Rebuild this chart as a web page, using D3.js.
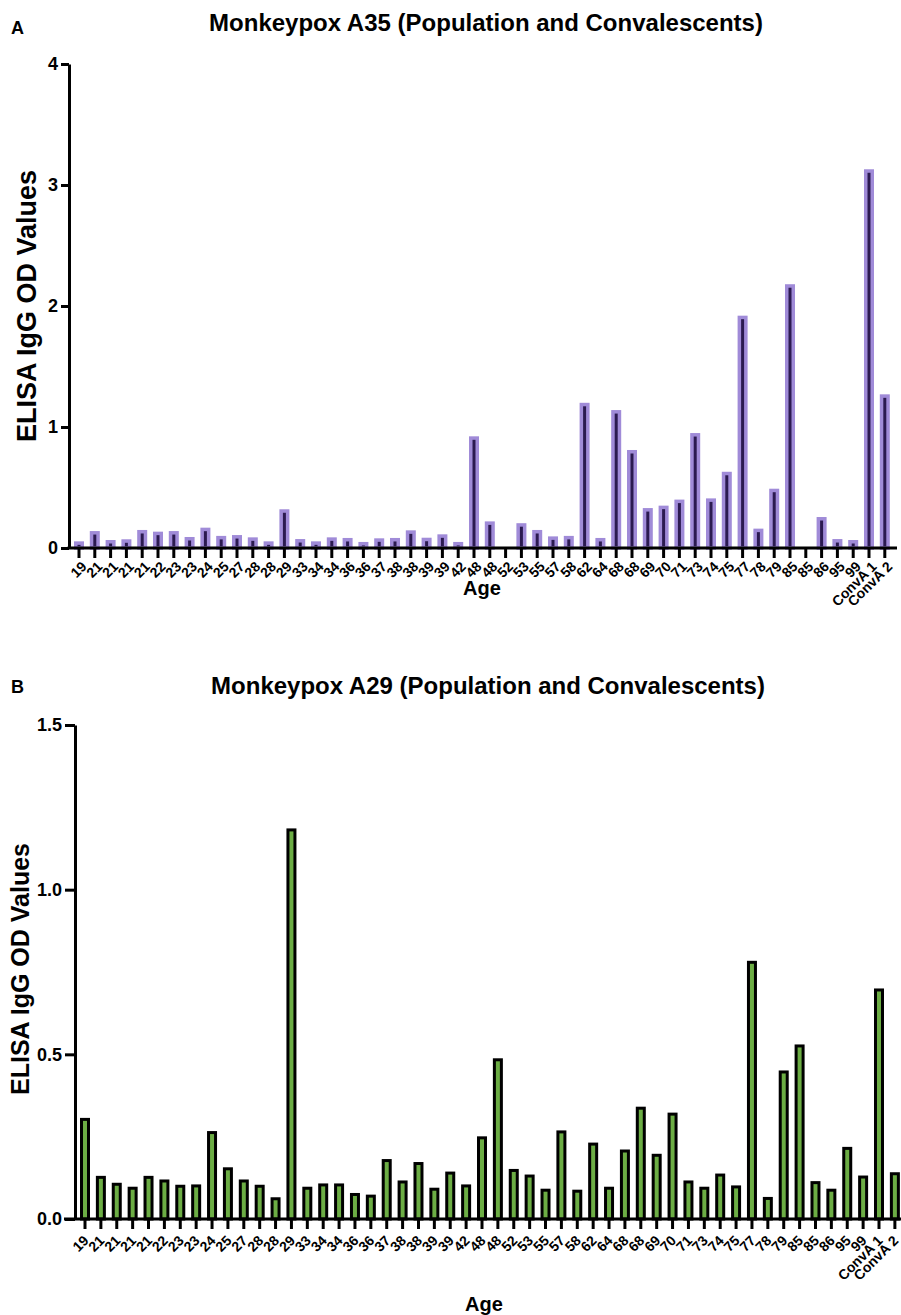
<!DOCTYPE html>
<html>
<head>
<meta charset="utf-8">
<script src="https://cdn.jsdelivr.net/npm/d3@7"></script>
<style>
    body { margin: 0; background: #fff; }
    svg { display: block; font-family: "Liberation Sans", Arial, sans-serif; }
    .axis path, .axis line { stroke: #000; stroke-width: 3; }
    .axis text { font-weight: bold; fill: #000; }
</style>
</head>
<body>
<svg id="chart" width="901" height="1315"></svg>
<script>
    const ages = ["19","21","21","21","21","22","23","23","24","25","27","28","28","29","33","34","34","36","36","37",
        "38","38","39","39","42","48","48","52","53","55","57","58","62","64","68","68","69","70","71","73",
        "74","75","77","78","79","85","85","86","95","99","ConvA 1","ConvA 2"];

    const a35Values = [0.055,0.14,0.066,0.072,0.149,0.135,0.14,0.091,0.168,0.10,0.107,0.088,0.055,0.32,0.074,0.055,0.088,0.083,0.05,0.08,
        0.083,0.146,0.085,0.113,0.05,0.923,0.22,0,0.205,0.149,0.096,0.10,1.20,0.083,1.14,0.81,0.33,0.35,0.40,0.95,
        0.41,0.63,1.92,0.16,0.49,2.18,0,0.256,0.074,0.066,3.13,1.27];

    const a29Values = [0.307,0.131,0.110,0.098,0.131,0.12,0.104,0.105,0.267,0.157,0.12,0.104,0.066,1.186,0.098,0.108,0.108,0.079,0.074,0.182,
        0.117,0.173,0.095,0.144,0.105,0.251,0.488,0.152,0.135,0.092,0.269,0.089,0.232,0.098,0.211,0.341,0.198,0.323,0.117,0.098,
        0.138,0.102,0.784,0.067,0.451,0.530,0.115,0.092,0.219,0.132,0.70,0.142];

    const a35Ticks = [0, 1, 2, 3, 4];
    const a29Ticks = [0, 0.5, 1.0, 1.5];

    const svg = d3.select("#chart");

    function drawPanel(cfg) {
        const g = svg.append("g");
        const idx = d3.range(ages.length);

        const x = d3.scaleBand().domain(idx).range(cfg.xRange).padding(0);
        const y = d3.scaleLinear().domain(cfg.yDomain).range(cfg.yRange);

        // bars (stroke drawn inside so the outer edge sits on the value)
        const sw = cfg.barStroke;
        g.append("g").selectAll("rect")
            .data(cfg.values)
            .join("rect")
            .attr("x", (d, i) => x(i) + x.bandwidth() / 2 - cfg.barWidth / 2 + sw / 2)
            .attr("width", cfg.barWidth - sw)
            .attr("y", d => y(d) + sw / 2)
            .attr("height", d => Math.max(0, y(0) - y(d) - sw / 2))
            .attr("fill", cfg.fill)
            .attr("stroke", cfg.stroke)
            .attr("stroke-width", sw)
            .attr("display", d => d > 0 ? null : "none");

        // y axis
        const yAxis = g.append("g")
            .attr("class", "axis")
            .attr("transform", `translate(${cfg.yAxisX},0)`)
            .call(d3.axisLeft(y).tickValues(cfg.ticks).tickFormat(cfg.tickFormat)
                .tickSize(cfg.yTickSize).tickSizeOuter(0).tickPadding(3));
        yAxis.selectAll("text").style("font-size", "18px");

        // x axis
        const xAxis = g.append("g")
            .attr("class", "axis")
            .attr("transform", `translate(0,${y(0)})`)
            .call(d3.axisBottom(x).tickFormat(i => ages[i]).tickSize(10).tickSizeOuter(0));
        xAxis.select(".domain").attr("d", `M${cfg.xLineStart},0H${cfg.xLineEnd}`);
        xAxis.selectAll(".tick text")
            .style("font-size", "14px")
            .attr("text-anchor", "end")
            .attr("x", 0)
            .attr("y", 0)
            .attr("dy", "0.35em")
            .attr("transform", `translate(${cfg.labelShift},${cfg.labelDrop}) rotate(-45)`);

        // titles
        svg.append("text")
            .attr("x", 11).attr("y", cfg.letterY)
            .style("font-size", "18px").style("font-weight", "bold")
            .text(cfg.letter);
        svg.append("text")
            .attr("x", cfg.titleX).attr("y", cfg.titleY)
            .attr("text-anchor", "middle")
            .style("font-size", "24px").style("font-weight", "bold")
            .text(cfg.title);
        svg.append("text")
            .attr("transform", `translate(${cfg.yLabelX},${cfg.yLabelY}) rotate(-90)`)
            .attr("text-anchor", "middle")
            .style("font-size", cfg.yLabelSize + "px").style("font-weight", "bold")
            .text("ELISA IgG OD Values");
        svg.append("text")
            .attr("x", cfg.ageX).attr("y", cfg.ageY)
            .attr("text-anchor", "middle")
            .style("font-size", "20px").style("font-weight", "bold")
            .text("Age");
    }

    drawPanel({
        values: a35Values,
        ticks: a35Ticks,
        tickFormat: d3.format("d"),
        yDomain: [0, 4],
        yRange: [548, 64],
        xRange: [71.1, 892.7],
        yAxisX: 69,
        yTickSize: 8,
        xLineStart: 67.5,
        xLineEnd: 897,
        labelShift: 5,
        labelDrop: 16,
        barWidth: 10,
        barStroke: 3.5,
        fill: "#2b1a50",
        stroke: "#a08bd8",
        letter: "A",
        letterY: 34,
        title: "Monkeypox A35 (Population and Convalescents)",
        titleX: 486,
        titleY: 31,
        yLabelX: 36,
        yLabelY: 306,
        yLabelSize: 27,
        ageX: 482,
        ageY: 595
    });

    drawPanel({
        values: a29Values,
        ticks: a29Ticks,
        tickFormat: d3.format(".1f"),
        yDomain: [0, 1.5],
        yRange: [1219, 725],
        xRange: [77.06, 902.82],
        yAxisX: 75,
        yTickSize: 10,
        xLineStart: 64,
        xLineEnd: 901,
        labelShift: 1,
        labelDrop: 19,
        barWidth: 10,
        barStroke: 3,
        fill: "#6cad44",
        stroke: "#000",
        letter: "B",
        letterY: 693,
        title: "Monkeypox A29 (Population and Convalescents)",
        titleX: 488,
        titleY: 694,
        yLabelX: 29,
        yLabelY: 969,
        yLabelSize: 25,
        ageX: 484,
        ageY: 1311
    });
</script>
</body>
</html>
